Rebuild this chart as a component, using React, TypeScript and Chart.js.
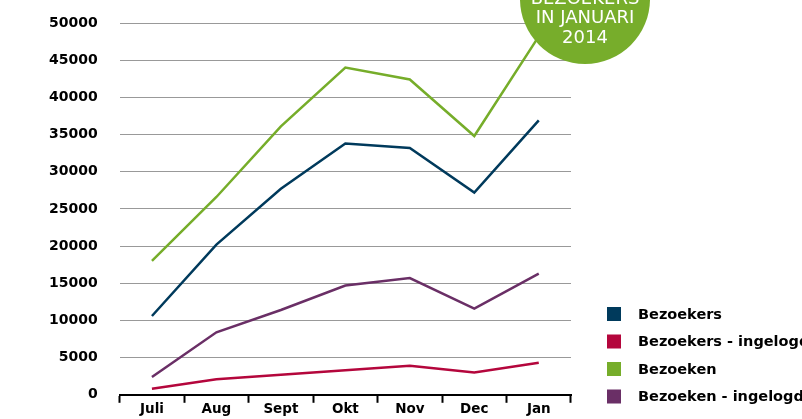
import React, { useEffect, useRef } from "react";
import { Chart, registerables } from "chart.js";

Chart.register(...registerables);

const categories = ["Juli", "Aug", "Sept", "Okt", "Nov", "Dec", "Jan"];
const seriesNames = ["Bezoekers", "Bezoekers - ingelogd", "Bezoeken", "Bezoeken - ingelogd"];
const bezoekers = [10600, 20200, 27700, 33800, 33200, 27200, 36900];
const bezoekersIngelogd = [800, 2100, 2700, 3300, 3900, 3000, 4300];
const bezoeken = [18000, 26600, 36100, 44000, 42400, 34800, 48200];
const bezoekenIngelogd = [2400, 8400, 11400, 14700, 15700, 11600, 16300];
const badgeLines = ["BEZOEKERS", "IN JANUARI", "2014"];
const colors = ["#003a5c", "#b4063c", "#76ad2a", "#6a2f66"];

const FONT = "'DejaVu Sans', Verdana, sans-serif";

const overlayPlugin = {
  id: "overlay",
  afterDatasetsDraw(chart: any) {
    const ctx = chart.ctx as CanvasRenderingContext2D;
    ctx.save();
    // badge circle
    ctx.fillStyle = "#77ad2b";
    ctx.beginPath();
    ctx.arc(585, -1, 65, 0, Math.PI * 2);
    ctx.fill();
    ctx.fillStyle = "#ffffff";
    ctx.font = `18px ${FONT}`;
    ctx.textAlign = "center";
    ctx.textBaseline = "middle";
    badgeLines.forEach((t, i) => ctx.fillText(t, 585, -1 + i * 19.5));
    // legend
    ctx.textAlign = "left";
    ctx.font = `bold 14.5px ${FONT}`;
    chart.data.datasets.forEach((ds: any, i: number) => {
      const y = 314 + i * 27.5;
      ctx.fillStyle = ds.borderColor;
      ctx.fillRect(607, y - 7, 14, 14);
      ctx.fillStyle = "#000000";
      ctx.fillText(ds.label, 638, y + 1);
    });
    ctx.restore();
  },
};

export default function App() {
  const ref = useRef<HTMLCanvasElement>(null);
  useEffect(() => {
    document.body.style.margin = "0";
    const data = [bezoekers, bezoekersIngelogd, bezoeken, bezoekenIngelogd];
    const chart = new Chart(ref.current!, {
      type: "line",
      data: {
        labels: categories,
        datasets: data.map((d, i) => ({
          label: seriesNames[i],
          data: d,
          borderColor: colors[i],
          backgroundColor: colors[i],
          borderWidth: 2.5,
          pointRadius: 0,
          tension: 0,
        })),
      },
      options: {
        responsive: false,
        animation: false,
        layout: { padding: { left: 49, right: 231, top: 23, bottom: 2 } },
        plugins: { legend: { display: false }, tooltip: { enabled: false } },
        scales: {
          x: {
            offset: true,
            grid: {
              offset: true,
              drawOnChartArea: false,
              drawTicks: true,
              tickLength: 8,
              tickWidth: 2,
              color: "#000000",
            },
            border: { display: true, color: "#000000", width: 2 },
            ticks: { color: "#000000", font: { family: FONT, size: 13.5, weight: "bold" }, padding: -1 },
          },
          y: {
            min: 0,
            max: 50000,
            ticks: {
              stepSize: 5000,
              color: "#000000",
              padding: 0,
              font: { family: FONT, size: 14, weight: "bold" },
              callback: (v: any) => String(v),
            },
            grid: {
              color: "#999999",
              drawTicks: true,
              tickLength: 22,
              tickColor: "rgba(0,0,0,0)",
              lineWidth: 1,
            },
            border: { display: false },
          },
        },
      },
      plugins: [overlayPlugin],
    });
    return () => chart.destroy();
  }, []);
  return (
    <div style={{ position: "absolute", left: 0, top: 0, width: 802, height: 419 }}>
      <canvas ref={ref} width={802} height={419} style={{ display: "block" }} />
    </div>
  );
}
